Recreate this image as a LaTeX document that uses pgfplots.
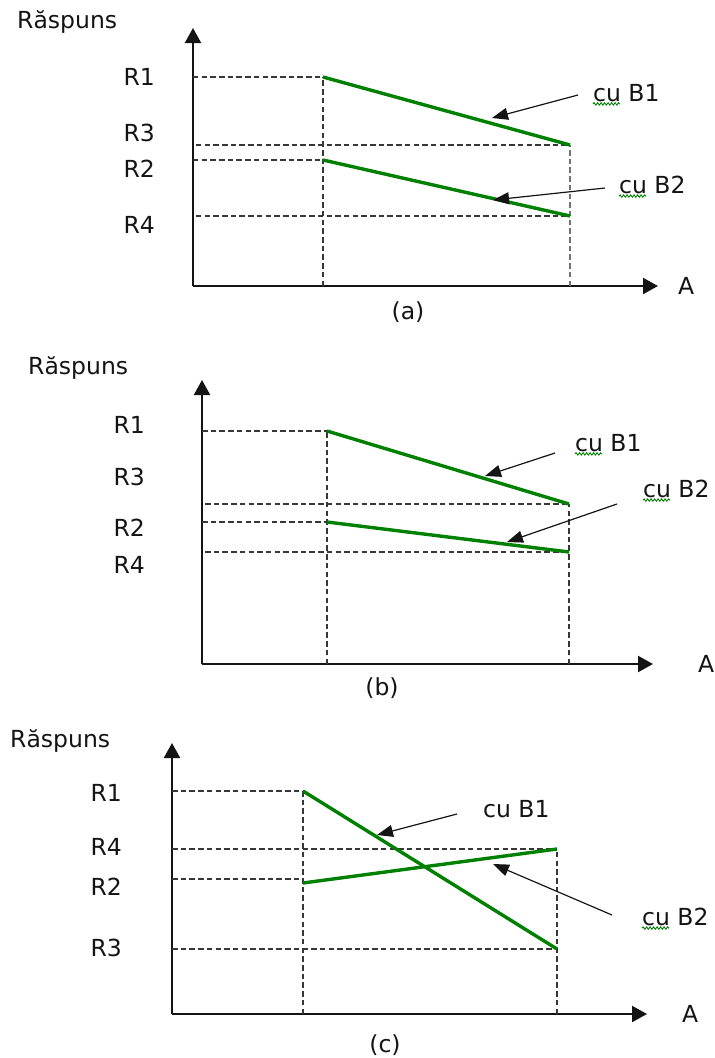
\documentclass[border=0pt]{standalone}
\usepackage{fontspec}
\setmainfont{DejaVu Sans}
\usepackage{pgfplots}
\pgfplotsset{compat=1.18}
\usetikzlibrary{arrows.meta,decorations.pathmorphing}
\definecolor{lgreen}{RGB}{0,128,0}
\definecolor{ink}{RGB}{20,20,20}
\pgfplotsset{
  panel/.style={
    x=1pt, y=1pt, xmin=0, ymin=0, axis lines=left,
    xtick=\empty, ytick=\empty, clip=false, anchor=south west,
    axis line style={line width=2.2pt, ink},
    every outer x axis line/.append style={-{Triangle[length=15pt,width=16pt]}},
    every outer y axis line/.append style={-{Triangle[length=15pt,width=16pt]}},
  },
}
\tikzset{
  dl/.style={ink!85, line width=1.9pt, dash pattern=on 5.5pt off 3.2pt},
  gl/.style={lgreen, line width=3.4pt},
  ar/.style={ink, line width=1.2pt, -{Triangle[length=16pt,width=12pt]}},
  lb/.style={font=\fontsize{23.5}{28}\selectfont, inner sep=0pt, text=ink},
  wv/.style={lgreen, line width=0.9pt, decorate, decoration={snake, amplitude=1.2pt, segment length=3.5pt}},
}
\begin{document}
\begin{tikzpicture}
\path (0,0) rectangle (715pt,-1058pt);
% ---------------- (a)
\begin{axis}[panel, at={(193pt,-286pt)}, xmax=465, ymax=258]
\addplot[dl] coordinates {(0,209) (130,209)};
\addplot[dl] coordinates {(3,141) (377,141)};
\addplot[dl] coordinates {(0,126) (130,126)};
\addplot[dl] coordinates {(3,70) (377,70)};
\addplot[dl] coordinates {(130,0) (130,209)};
\addplot[dl, black!55] coordinates {(377,0) (377,141)};
\addplot[gl] coordinates {(130,209) (377,141)};
\addplot[gl] coordinates {(130,126) (377,70)};
\node[lb, anchor=east] at (axis cs:-38,209) {R1};
\node[lb, anchor=east] at (axis cs:-38,153) {R3};
\node[lb, anchor=east] at (axis cs:-38,117) {R2};
\node[lb, anchor=east] at (axis cs:-38,61) {R4};
\node[lb, anchor=west] at (axis cs:-176,264) {Răspuns};
\node[lb, anchor=west] at (axis cs:485,0) {A};
\node[lb] at (axis cs:215,-26) {(a)};
\node[lb, anchor=west] (a1) at (axis cs:400,193) {cu B1};
\draw[wv] ([yshift=-2.5pt]a1.base west) -- ++(27pt,0);
\node[lb, anchor=west] (a2) at (axis cs:426,101) {cu B2};
\draw[wv] ([yshift=-2.5pt]a2.base west) -- ++(27pt,0);
\draw[ar] (axis cs:385,191) -- (axis cs:299,168);
\draw[ar] (axis cs:412,98) -- (axis cs:300,86);
\end{axis}
% ---------------- (b)
\begin{axis}[panel, at={(202pt,-664pt)}, xmax=451, ymax=284]
\addplot[dl] coordinates {(0,233) (125,233)};
\addplot[dl] coordinates {(3,160) (367,160)};
\addplot[dl] coordinates {(0,142) (125,142)};
\addplot[dl] coordinates {(3,112) (367,112)};
\addplot[dl] coordinates {(125,0) (125,233)};
\addplot[dl] coordinates {(367,0) (367,160)};
\addplot[gl] coordinates {(125,233) (367,160)};
\addplot[gl] coordinates {(125,142) (367,112)};
\node[lb, anchor=east] at (axis cs:-57,239) {R1};
\node[lb, anchor=east] at (axis cs:-57,187) {R3};
\node[lb, anchor=east] at (axis cs:-57,136) {R2};
\node[lb, anchor=east] at (axis cs:-57,99) {R4};
\node[lb, anchor=west] at (axis cs:-174,296) {Răspuns};
\node[lb, anchor=west] at (axis cs:496,0) {A};
\node[lb] at (axis cs:180,-24) {(b)};
\node[lb, anchor=west] (b1) at (axis cs:373,221) {cu B1};
\draw[wv] ([yshift=-2.5pt]b1.base west) -- ++(27pt,0);
\node[lb, anchor=west] (b2) at (axis cs:441,175) {cu B2};
\draw[wv] ([yshift=-2.5pt]b2.base west) -- ++(27pt,0);
\draw[ar] (axis cs:353,211) -- (axis cs:283,188);
\draw[ar] (axis cs:415,160) -- (axis cs:305,122);
\end{axis}
% ---------------- (c)
\begin{axis}[panel, at={(172pt,-1014pt)}, xmax=475, ymax=271]
\addplot[dl] coordinates {(0,223) (131,223)};
\addplot[dl] coordinates {(0,165) (385,165)};
\addplot[dl] coordinates {(0,135) (131,135)};
\addplot[dl] coordinates {(0,65) (385,65)};
\addplot[dl] coordinates {(131,0) (131,223)};
\addplot[dl] coordinates {(385,0) (385,165)};
\addplot[gl] coordinates {(131,223) (385,65)};
\addplot[gl] coordinates {(131,131) (385,165)};
\node[lb, anchor=east] at (axis cs:-50,221) {R1};
\node[lb, anchor=east] at (axis cs:-50,167) {R4};
\node[lb, anchor=east] at (axis cs:-50,127) {R2};
\node[lb, anchor=east] at (axis cs:-50,66) {R3};
\node[lb, anchor=west] at (axis cs:-162,273) {Răspuns};
\node[lb, anchor=west] at (axis cs:510,0) {A};
\node[lb] at (axis cs:213,-31) {(c)};
\node[lb, anchor=west] (c1) at (axis cs:311,205) {cu B1};
\node[lb, anchor=west] (c2) at (axis cs:470,97) {cu B2};
\draw[wv] ([yshift=-2.5pt]c2.base west) -- ++(27pt,0);
\draw[ar] (axis cs:285,200) -- (axis cs:205,179);
\draw[ar] (axis cs:440,99) -- (axis cs:321,150);
\end{axis}
\end{tikzpicture}
\end{document}
